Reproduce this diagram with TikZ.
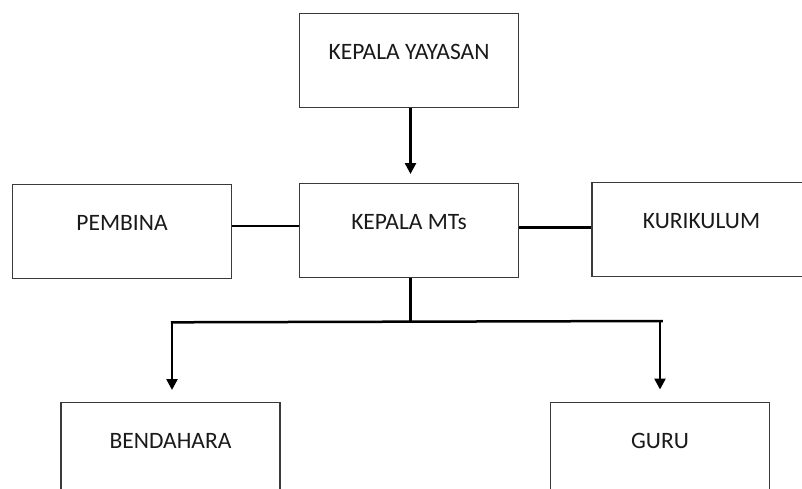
\documentclass[tikz,border=0pt]{standalone}
\usepackage{fontspec}
\setmainfont{Carlito}
\usetikzlibrary{arrows.meta}
\definecolor{boxline}{HTML}{3A3A3A}
\definecolor{txt}{HTML}{1A1A1A}
\begin{document}
\begin{tikzpicture}[x=1pt,y=-1pt,
  orgbox/.style={draw=boxline,line width=1.3pt,fill=white,rectangle,anchor=north,
    minimum width=219pt,inner sep=0pt,text height=46.3pt,text depth=47.7pt,
    font=\fontsize{23.5}{26}\selectfont,text=txt},
  conn/.style={line width=2.5pt,black},
  arr/.style={conn,-{Triangle[width=11pt,length=11pt]}}]
\useasboundingbox (0,0) rectangle (802,488);
\clip (0,0) rectangle (802,488);
\fill[white] (0,0) rectangle (802,488);
\node[orgbox] (yay) at (409,12.5) {KEPALA YAYASAN};
\node[orgbox] (mts) at (409,183) {KEPALA MTs};
\node[orgbox] (pem) at (122,184) {PEMBINA};
\node[orgbox] (kur) at (701.5,181.7) {KURIKULUM};
\node[orgbox] (ben) at (170.5,402) {BENDAHARA};
\node[orgbox] (gur) at (660,402) {GURU};
\coordinate (bm) at (410.5,321.5);
\coordinate (bl) at (172,322.3);
\coordinate (br) at (661.5,321);
\draw[arr,shorten >=9pt] ([xshift=1.5pt]yay.south) -- ([xshift=1.5pt]mts.north);
\draw[conn,line width=2.8pt] (pem.east |- {(0,226)}) -- (mts.west |- {(0,226)});
\draw[conn,line width=2.8pt] (mts.east |- {(0,227.5)}) -- (kur.west |- {(0,227.5)});
\draw[conn] ([xshift=1.5pt]mts.south) -- ([xshift=1.5pt]mts.south |- bm);
\draw[conn,line cap=rect] (bl) -- (br);
\draw[arr,shorten >=12pt] (bl) -- (bl |- ben.north);
\draw[arr,shorten >=12.5pt] ([xshift=-1.5pt]br) -- ([xshift=-1.5pt]br |- gur.north);
\end{tikzpicture}
\end{document}
